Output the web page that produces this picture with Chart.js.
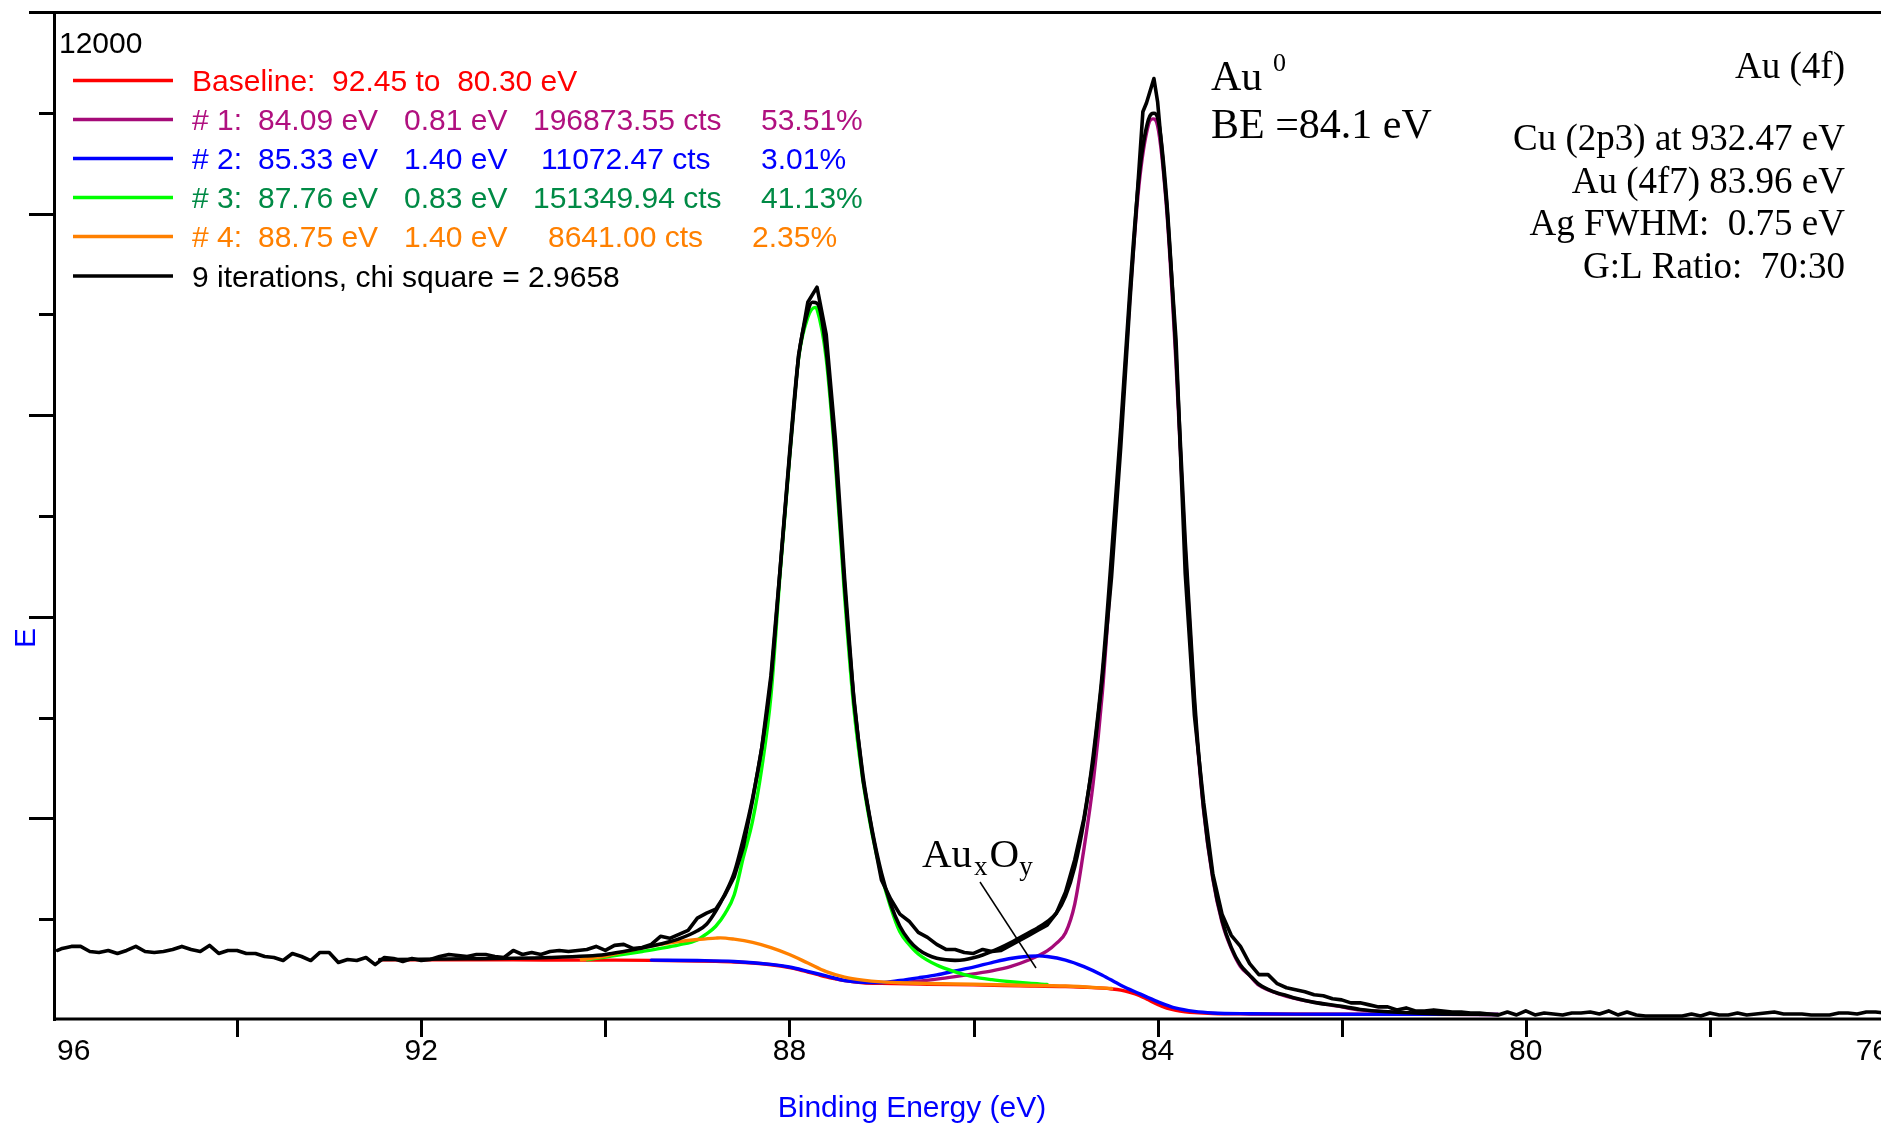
<!DOCTYPE html>
<html>
<head>
<meta charset="utf-8">
<script src="https://cdn.jsdelivr.net/npm/chart.js@4.4.1/dist/chart.umd.min.js"></script>
<style>
html,body{margin:0;padding:0;background:#fff;overflow:hidden;}
#wrap{width:1881px;height:1125px;overflow:hidden;position:relative;background:#fff;}
canvas{display:block;}
</style>
</head>
<body>
<div id="wrap"><canvas id="c" width="1900" height="1125"></canvas></div>
<script>
// ---------------- data (binding energy in eV, intensity in counts) ----------------
const rawBE = [95.95,95.9,95.8,95.7,95.6,95.5,95.4,95.3,95.2,95.1,95.0,94.9,94.8,94.7,94.6,94.5,94.4,94.3,94.2,94.1,
94.0,93.9,93.8,93.7,93.6,93.5,93.4,93.3,93.2,93.1,93.0,92.9,92.8,92.7,92.6,92.5,92.4,92.3,92.2,92.1,
92.0,91.9,91.8,91.7,91.6,91.5,91.4,91.3,91.2,91.1,91.0,90.9,90.8,90.7,90.6,90.5,90.4,90.3,90.2,90.1,
90.0,89.9,89.8,89.7,89.6,89.5,89.4,89.3,89.2,89.1,89.0,88.9,88.8,88.7,88.6,88.5,88.4,88.3,88.2,88.1,
88.0,87.9,87.8,87.7,87.6,87.5,87.4,87.3,87.2,87.1,87.0,86.9,86.8,86.7,86.6,86.5,86.4,86.3,86.2,86.1,
86.0,85.9,85.8,85.7,85.6,85.5,85.4,85.3,85.2,85.1,85.0,84.9,84.8,84.7,84.6,84.5,84.4,84.3,84.2,84.16,
84.12,84.04,84.0,83.9,83.8,83.7,83.6,83.5,83.4,83.3,83.2,83.1,83.0,82.9,82.8,82.7,82.6,82.5,82.4,82.3,
82.2,82.1,82.0,81.9,81.8,81.7,81.6,81.5,81.4,81.3,81.2,81.1,81.0,80.9,80.8,80.7,80.6,80.5,80.4,80.3,
80.2,80.1,80.0,79.9,79.8,79.7,79.6,79.5,79.4,79.3,79.2,79.1,79.0,78.9,78.8,78.7,78.6,78.5,78.4,78.3,
78.2,78.1,78.0,77.9,77.8,77.7,77.6,77.5,77.4,77.3,77.2,77.1,77.0,76.9,76.8,76.7,76.6,76.5,76.4,76.3,
76.2,76.1,76.0];
const rawCounts = [2690,2710,2730,2730,2680,2670,2690,2660,2690,2730,2680,2670,2680,2700,2730,2700,2680,2740,2660,2690,
2690,2660,2660,2630,2620,2590,2660,2630,2590,2670,2670,2570,2600,2590,2620,2550,2620,2610,2580,2610,
2590,2600,2630,2650,2640,2630,2650,2650,2630,2620,2690,2650,2670,2650,2680,2690,2680,2690,2700,2730,
2690,2740,2750,2710,2720,2750,2830,2810,2850,2890,3010,3060,3100,3240,3420,3720,4180,4700,5420,6480,
7570,8600,9120,9270,8800,7760,6380,5170,4380,3860,3390,3200,3050,2980,2870,2820,2750,2700,2700,2670,
2660,2700,2680,2690,2740,2790,2840,2890,2940,3060,3270,3590,4000,4560,5390,6400,7690,9140,10470,11010,
11100,11340,11110,10080,8750,6430,5020,4160,3450,3050,2840,2730,2560,2450,2450,2360,2320,2300,2280,2250,
2240,2210,2200,2170,2170,2150,2130,2130,2100,2120,2090,2090,2100,2090,2080,2080,2070,2070,2060,2050,
2080,2050,2090,2050,2070,2060,2050,2070,2070,2080,2060,2090,2050,2080,2050,2040,2040,2040,2040,2040,
2060,2040,2070,2050,2050,2070,2050,2060,2070,2080,2060,2060,2060,2050,2050,2050,2070,2070,2060,2080,
2080,2070,2070];

const envBE = [92.45,92.0,91.5,91.0,90.6,90.2,90.0,89.8,89.6,89.4,89.2,89.0,88.9,88.8,88.7,88.6,88.5,88.4,88.3,88.2,
88.1,88.0,87.9,87.8,87.75,87.7,87.6,87.5,87.4,87.3,87.2,87.1,87.0,86.9,86.8,86.7,86.6,86.5,86.4,86.3,
86.2,86.1,86.0,85.9,85.8,85.7,85.6,85.5,85.4,85.3,85.2,85.1,85.0,84.9,84.8,84.7,84.6,84.5,84.4,84.3,
84.2,84.1,84.04,84.0,83.9,83.8,83.7,83.6,83.5,83.4,83.3,83.2,83.1,83.0,82.9,82.8,82.7,82.6,82.5,82.3,
82.0,81.8,81.5,81.0,80.3];
const envCounts = [2600,2603,2607,2612,2620,2635,2650,2680,2715,2755,2805,2885,2950,3080,3250,3460,3800,4200,4700,5380,
6480,7600,8580,9030,9120,9110,8640,7600,6300,5200,4420,3880,3460,3150,2930,2790,2700,2645,2612,2597,
2592,2598,2618,2645,2680,2720,2765,2815,2865,2915,2975,3060,3230,3520,3980,4620,5450,6620,7880,9250,
10380,10930,10995,10950,10120,8600,6750,5200,4100,3420,2990,2720,2545,2445,2355,2305,2268,2243,2215,2175,
2135,2105,2082,2063,2055];

const bgBE = [92.45,91.0,90.0,89.5,89.0,88.8,88.6,88.4,88.2,88.0,87.9,87.8,87.7,87.6,87.5,87.4,87.3,87.2,87.0,86.5,
86.0,85.5,85.0,84.8,84.6,84.5,84.4,84.3,84.2,84.1,84.0,83.9,83.8,83.7,83.6,83.4,83.0,82.0,80.3];
const bgCounts = [2598,2596,2594,2592,2586,2582,2576,2566,2548,2520,2500,2476,2452,2428,2408,2390,2378,2370,2364,2355,
2348,2340,2332,2325,2316,2308,2296,2275,2245,2200,2155,2118,2096,2082,2073,2064,2060,2057,2055];

const p1BE = [86.8,86.6,86.4,86.2,86.0,85.8,85.6,85.4,85.2,85.1,85.0,84.9,84.8,84.7,84.6,84.5,84.4,84.3,84.2,84.1,
84.05,84.0,83.9,83.8,83.7,83.6,83.5,83.4,83.3,83.2,83.1,83.0,82.9,82.7,82.5,82.2,82.0,81.8,81.5,81.0,80.3];
const p1Counts = [2372,2385,2405,2430,2458,2488,2530,2595,2685,2760,2865,3150,3700,4350,5250,6520,7800,9180,10300,10880,
10940,10870,10020,8510,6675,5140,4075,3400,2970,2710,2530,2440,2345,2265,2212,2160,2130,2100,2080,2062,2055];

const p2BE = [89.5,89.0,88.6,88.2,88.0,87.8,87.6,87.4,87.2,87.0,86.8,86.6,86.4,86.2,86.0,85.8,85.6,85.4,85.3,85.2,
85.0,84.8,84.6,84.4,84.2,84.0,83.8,83.6,83.4,83.0,82.5,81.5,80.3];
const p2Counts = [2594,2590,2581,2552,2526,2483,2437,2392,2375,2372,2392,2418,2447,2487,2525,2570,2610,2632,2636,2630,
2595,2530,2445,2345,2262,2182,2117,2085,2070,2062,2058,2056,2055];

const p3BE = [90.2,90.0,89.8,89.6,89.4,89.2,89.0,88.9,88.8,88.7,88.6,88.5,88.4,88.3,88.2,88.1,88.0,87.9,87.8,87.72,
87.7,87.6,87.5,87.4,87.3,87.2,87.1,87.0,86.9,86.8,86.7,86.6,86.4,86.2,86.0,85.8,85.6,85.4,85.2];
const p3Counts = [2598,2625,2652,2680,2710,2745,2795,2855,2930,3055,3240,3615,3975,4500,5220,6435,7555,8565,8970,9070,
9050,8560,7520,6200,5095,4365,3840,3435,3120,2875,2750,2655,2545,2478,2428,2400,2380,2364,2352];

const p4BE = [90.26,90.0,89.8,89.6,89.4,89.2,89.0,88.8,88.75,88.6,88.4,88.2,88.0,87.8,87.6,87.4,87.2,87.0,86.8,86.5,
86.0,85.5,85.0,84.5];
const p4Counts = [2598,2635,2675,2715,2750,2778,2798,2812,2815,2802,2770,2718,2650,2565,2480,2425,2395,2378,2370,2362,
2354,2345,2337,2312];

// ticks
const xTickValues = [94,92,90,88,86,84,82,80,78];
const xLabelValues = [96,92,88,84,80,76];
const xLabelTexts = ['96','92','88','84','80','76'];
const yTickValues = [3000,4000,5000,6000,7000,8000,9000,10000,11000];
const yTopLabel = '12000';

// legend
const legendLines = ['#ff0000','#a50a78','#0000ff','#00ff00','#ff8000','#000000'];
const legendColors = ['#ff0000','#b0107f','#0000ff','#008a45','#ff8000','#000000'];
const legendFirst = 'Baseline:  92.45 to  80.30 eV';
const legendLast = '9 iterations, chi square = 2.9658';
const legendNum = ['# 1:','# 2:','# 3:','# 4:'];
const legendPos = ['84.09 eV','85.33 eV','87.76 eV','88.75 eV'];
const legendFwhm = ['0.81 eV','1.40 eV','0.83 eV','1.40 eV'];
const legendArea = ['196873.55 cts','11072.47 cts','151349.94 cts','8641.00 cts'];
const legendPct = ['53.51%','3.01%','41.13%','2.35%'];
const legendAreaX = [533,541,533,548];
const legendPctX = [761,761,761,752];

const infoLines = ['Cu (2p3) at 932.47 eV','Au (4f7) 83.96 eV','Ag FWHM:  0.75 eV','G:L Ratio:  70:30'];

const pts = (xs, ys) => xs.map((x, i) => ({x: x, y: ys[i]}));

const SANS = '"Liberation Sans", Arial, sans-serif';
const SERIF = '"Liberation Serif", "Times New Roman", serif';

const axesPlugin = {
  id: 'axesPlugin',
  beforeDatasetsDraw(chart) {
    const {ctx, chartArea: a, scales} = chart;
    const xs = scales.x, ys = scales.y;
    ctx.save();
    ctx.strokeStyle = '#000';
    ctx.lineWidth = 3;
    ctx.lineCap = 'butt';
    ctx.beginPath(); ctx.moveTo(a.left + 1.5, a.top); ctx.lineTo(a.left + 1.5, a.bottom + 1); ctx.stroke();
    ctx.beginPath(); ctx.moveTo(29, a.top + 0.5); ctx.lineTo(chart.width, a.top + 0.5); ctx.stroke();
    ctx.beginPath(); ctx.moveTo(a.left, a.bottom - 1); ctx.lineTo(chart.width, a.bottom - 1); ctx.stroke();
    xTickValues.forEach(v => {
      const px = Math.round(xs.getPixelForValue(v)) + 0.5;
      ctx.beginPath(); ctx.moveTo(px, a.bottom - 1); ctx.lineTo(px, a.bottom + 17); ctx.stroke();
    });
    yTickValues.forEach(v => {
      const py = Math.round(ys.getPixelForValue(v)) + 0.5;
      const long = (v / 1000) % 2 === 0;
      ctx.beginPath(); ctx.moveTo(long ? 29 : 39, py); ctx.lineTo(a.left + 1.5, py); ctx.stroke();
    });
    ctx.restore();
  },
  afterDraw(chart) {
    const {ctx, chartArea: a, scales} = chart;
    const xs = scales.x;
    ctx.save();
    ctx.fillStyle = '#000';
    ctx.font = '30px ' + SANS;
    ctx.textBaseline = 'alphabetic';
    xLabelValues.forEach((v, i) => {
      let px = xs.getPixelForValue(v);
      if (i === 0) { ctx.textAlign = 'left'; px = a.left + 4; }
      else if (i === xLabelValues.length - 1) { ctx.textAlign = 'right'; px = px - 5; }
      else ctx.textAlign = 'center';
      ctx.fillText(xLabelTexts[i], px, 1060);
    });
    ctx.textAlign = 'left';
    ctx.font = '30px ' + SANS;
    ctx.fillText(yTopLabel, 59, 53);

    ctx.fillStyle = '#0000ff';
    ctx.font = '30px ' + SANS;
    ctx.textAlign = 'center';
    ctx.fillText('Binding Energy (eV)', 912, 1117);
    ctx.save();
    ctx.translate(24, 638);
    ctx.rotate(-Math.PI / 2);
    ctx.textAlign = 'center';
    ctx.fillText('E', 0, 10.5);
    ctx.restore();

    const rowY = [80.5, 119.5, 158.5, 197.5, 236.5, 276];
    ctx.lineWidth = 3.5;
    for (let r = 0; r < 6; r++) {
      ctx.strokeStyle = legendLines[r];
      ctx.beginPath(); ctx.moveTo(73, rowY[r]); ctx.lineTo(173, rowY[r]); ctx.stroke();
    }
    ctx.font = '30px ' + SANS;
    ctx.textAlign = 'left';
    ctx.fillStyle = legendColors[0];
    ctx.fillText(legendFirst, 192, rowY[0] + 10.5);
    for (let r = 0; r < 4; r++) {
      const yb = rowY[r + 1] + 10.5;
      ctx.fillStyle = legendColors[r + 1];
      ctx.fillText(legendNum[r], 192, yb);
      ctx.fillText(legendPos[r], 258, yb);
      ctx.fillText(legendFwhm[r], 404, yb);
      ctx.fillText(legendArea[r], legendAreaX[r], yb);
      ctx.fillText(legendPct[r], legendPctX[r], yb);
    }
    ctx.fillStyle = legendColors[5];
    ctx.fillText(legendLast, 192, rowY[5] + 10.5);

    ctx.fillStyle = '#000';
    ctx.font = '42px ' + SERIF;
    ctx.textAlign = 'left';
    ctx.fillText('Au', 1211, 90);
    ctx.font = '26px ' + SERIF;
    ctx.fillText('0', 1273, 71);
    ctx.font = '42px ' + SERIF;
    ctx.fillText('BE =84.1 eV', 1211, 138);

    ctx.textAlign = 'right';
    ctx.font = '37px ' + SERIF;
    ctx.fillText('Au (4f)', 1845, 78);
    const infoY = [150, 193, 235, 278];
    infoLines.forEach((t, i) => ctx.fillText(t, 1845, infoY[i]));

    ctx.textAlign = 'left';
    let x0 = 922;
    ctx.font = '41px ' + SERIF;
    ctx.fillText('Au', x0, 867);
    x0 += ctx.measureText('Au').width + 2;
    ctx.font = '27px ' + SERIF;
    ctx.fillText('x', x0, 875);
    x0 += ctx.measureText('x').width + 2;
    ctx.font = '41px ' + SERIF;
    ctx.fillText('O', x0, 867);
    x0 += ctx.measureText('O').width;
    ctx.font = '27px ' + SERIF;
    ctx.fillText('y', x0, 875);
    ctx.strokeStyle = '#000';
    ctx.lineWidth = 1.5;
    ctx.beginPath(); ctx.moveTo(980, 882); ctx.lineTo(1036, 968); ctx.stroke();
    ctx.restore();
  }
};

const common = {pointRadius: 0, fill: false, borderJoinStyle: 'round', borderCapStyle: 'round'};

new Chart(document.getElementById('c').getContext('2d'), {
  type: 'line',
  data: {
    datasets: [
      Object.assign({label: 'raw', data: pts(rawBE, rawCounts), borderColor: '#000', borderWidth: 3.6, tension: 0, order: 0}, common),
      Object.assign({label: 'envelope', data: pts(envBE, envCounts), borderColor: '#000', borderWidth: 3.6, cubicInterpolationMode: 'monotone', order: 1}, common),
      Object.assign({label: '#4', data: pts(p4BE, p4Counts), borderColor: '#ff8000', borderWidth: 3.4, cubicInterpolationMode: 'monotone', order: 2}, common),
      Object.assign({label: '#3', data: pts(p3BE, p3Counts), borderColor: '#00ff00', borderWidth: 3.4, cubicInterpolationMode: 'monotone', order: 3}, common),
      Object.assign({label: '#2', data: pts(p2BE, p2Counts), borderColor: '#0000ff', borderWidth: 3.4, cubicInterpolationMode: 'monotone', order: 4}, common),
      Object.assign({label: '#1', data: pts(p1BE, p1Counts), borderColor: '#a50a78', borderWidth: 3.4, cubicInterpolationMode: 'monotone', order: 5}, common),
      Object.assign({label: 'baseline', data: pts(bgBE, bgCounts), borderColor: '#ff0000', borderWidth: 3.4, cubicInterpolationMode: 'monotone', order: 6}, common)
    ]
  },
  options: {
    responsive: false,
    animation: false,
    devicePixelRatio: 1,
    events: [],
    layout: {padding: {left: 53, top: 12, right: 6, bottom: 105}},
    plugins: {legend: {display: false}, tooltip: {enabled: false}, title: {display: false}},
    scales: {
      x: {type: 'linear', reverse: true, min: 76, max: 96, display: false},
      y: {type: 'linear', min: 2000, max: 12000, display: false}
    }
  },
  plugins: [axesPlugin]
});
</script>
</body>
</html>
